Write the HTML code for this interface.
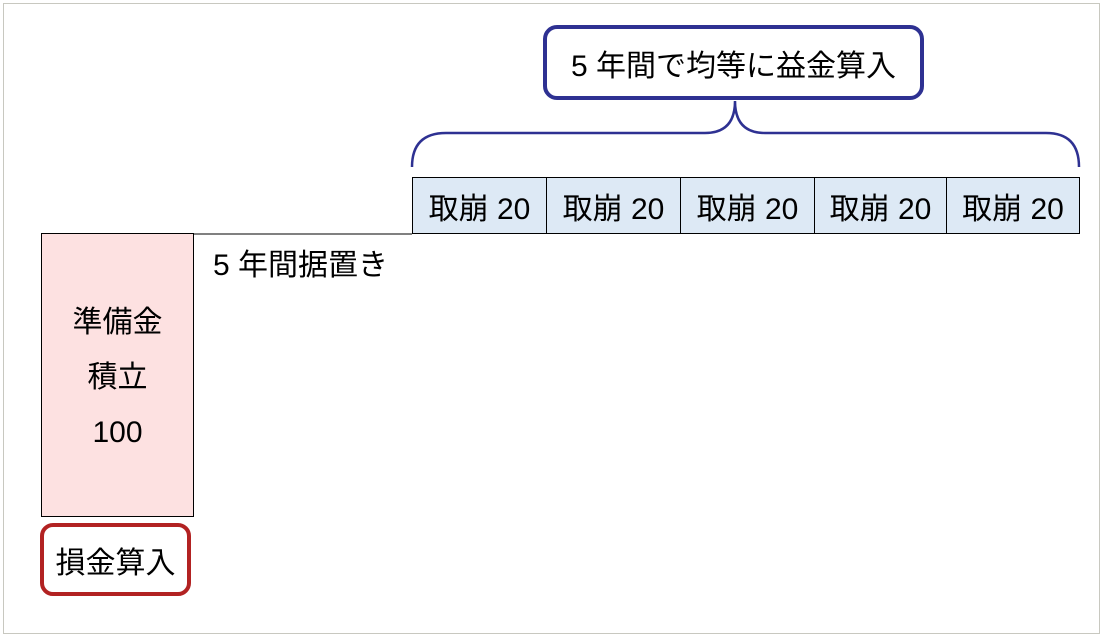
<!DOCTYPE html>
<html><head><meta charset="utf-8"><style>
body{margin:0;width:1103px;height:637px;background:#fff;position:relative;overflow:hidden;font-family:"Liberation Sans","Noto Sans CJK JP",sans-serif;color:#000}
.a{position:absolute;box-sizing:border-box}
.c{display:flex;align-items:center;justify-content:center;text-align:center}
.cell{top:177px;height:57px;background:#dde9f5;border:1px solid #000;font-size:30px}
</style></head><body>
<div class="a" style="left:3px;top:3px;width:1097px;height:631px;border:1px solid #c8c8c0"></div>
<div class="a c" style="left:543px;top:25px;width:381px;height:75px;border:4px solid #2e3192;border-radius:14px;font-size:30px">5 年間で均等に益金算入</div>
<svg class="a" style="left:0;top:0" width="1103" height="637">
<path d="M412 167 Q412 133 446 133 L705 133 Q735 133 735 101 Q735 133 765 133 L1046 133 Q1079 133 1079 167" fill="none" stroke="#2e3192" stroke-width="2.5"/>
<line x1="193" y1="234" x2="412" y2="234" stroke="#000" stroke-width="1"/>
</svg>
<div class="a c cell" style="left:412px;width:135px">取崩 20</div>
<div class="a c cell" style="left:546px;width:135px">取崩 20</div>
<div class="a c cell" style="left:680px;width:135px">取崩 20</div>
<div class="a c cell" style="left:814px;width:133px">取崩 20</div>
<div class="a c cell" style="left:946px;width:134px">取崩 20</div>
<div class="a" style="left:213px;top:240px;font-size:30px">5 年間据置き</div>
<div class="a c" style="left:41px;top:233px;width:153px;height:284px;background:#fde1e1;border:1px solid #000;font-size:30px;line-height:55px;padding-top:4px"><div>準備金<br>積立<br>100</div></div>
<div class="a c" style="left:40px;top:523px;width:151px;height:73px;border:4px solid #b22222;border-radius:13px;font-size:30px">損金算入</div>
</body></html>
